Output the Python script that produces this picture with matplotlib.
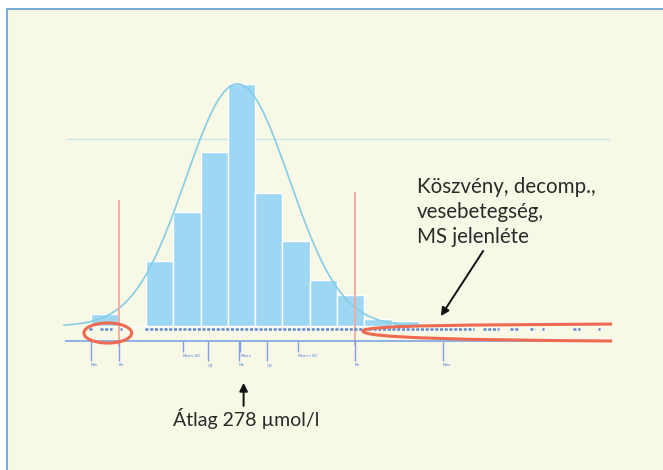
import matplotlib.pyplot as plt
import numpy as np
from matplotlib.patches import Ellipse, Rectangle, PathPatch
from matplotlib.path import Path

# histogram of serum uric acid (µmol/l), bins of 40
bin_edges = [60, 100, 140, 180, 220, 260, 300, 340, 380, 420, 460, 500, 540]
counts = [5, 0, 27, 47, 72, 100, 55, 35, 19, 13, 3, 2]

# fitted normal curve
curve_mean = 274
curve_sd = 76
curve_peak = 100

# rug of single values, drawn as runs (start, end)
rug_runs = [(57, 62), (73, 90), (102, 105), (138, 620), (634, 657),
            (673, 687), (703, 710), (720, 723), (766, 776), (802, 805)]

# markers under the axis
tick_pos = [59, 100, 194, 231, 276, 278, 317, 362, 446, 575]
tick_labels = ['Min', 'Bh', 'Mean-SD', 'Q1', 'Me', 'Mean', 'Q3', 'Mean+SD', 'Bh', 'Max']
tick_long = [True, True, False, True, True, False, True, False, True, True]

ref_level = 77.3
limits = [100, 446]
limit_tops = [52, 55.4]

bg = '#f8f8e7'
bar_col = '#9dd7f3'
curve_col = '#86cde6'
blue = '#5b88d6'
red = '#ee6a50'

fig = plt.figure(figsize=(6.63, 4.70), dpi=100)
fig.patch.set_facecolor('white')

ax = fig.add_axes([0, 0, 1, 1])
ax.set_facecolor('none')
ax.set_xlim(-73.9, 897.5)
ax.set_ylim(-59.5, 134.7)
ax.axis('off')

# cream panel with blue frame (top and left edges visible)
ax.add_patch(Rectangle((7 / 663, -0.01), 1.1, 1 - 9 / 470 + 0.01,
                       transform=fig.transFigure, facecolor=bg,
                       edgecolor='#7aaed0', linewidth=1.5, zorder=0,
                       clip_on=False))

# reference line
ax.hlines(ref_level, 24, 820, color='#c6e8ef', linewidth=1.0, zorder=1)

# bars
ax.bar(bin_edges[:-1], counts, width=np.diff(bin_edges), align='edge',
       color=bar_col, edgecolor='white', linewidth=1.0, zorder=2)

# normal curve
xs = np.linspace(20, 545, 400)
ax.plot(xs, curve_peak * np.exp(-0.5 * ((xs - curve_mean) / curve_sd) ** 2),
        color=curve_col, linewidth=1.2, zorder=3)

# red limit lines
for xp, top in zip(limits, limit_tops):
    ax.vlines(xp, -8.3, top, color='#f5a89c', linewidth=1.3, zorder=3)

# rug
for a, b in rug_runs:
    ax.hlines(-1.3, a, b, color=blue, linewidth=1.8,
              linestyles=(0, (1.2, 0.7)), zorder=4)

# axis line and markers
ax.hlines(-6.2, 22, 820, color='#7ea4e6', linewidth=1.2, zorder=4)
for xp, lab, lg in zip(tick_pos, tick_labels, tick_long):
    end = -14.5 if lg else -10.7
    ax.vlines(xp, end, -6.2, color='#7ea4e6', linewidth=1.0, zorder=4)
    ax.text(xp, end - 0.8, lab, fontsize=3, color=blue, ha='left', va='top')

# red ellipse on the left
ax.add_patch(Ellipse((84, -2.9), 70, 8.3, fill=False, edgecolor=red,
                     linewidth=2.2, zorder=5))

# red lasso on the right
verts = [(823, 0.8), (615, 0.4), (458, 0.4), (458, -2.1),
         (458, -5.0), (615, -5.8), (823, -6.2)]
codes = [Path.MOVETO, Path.CURVE4, Path.CURVE4, Path.CURVE4,
         Path.CURVE4, Path.CURVE4, Path.CURVE4]
ax.add_patch(PathPatch(Path(verts, codes), fill=False, edgecolor=red,
                       linewidth=2.2, zorder=5))

# annotations
ax.text(537, 61.5, 'Köszvény, decomp.,\nvesebetegség,\nMS jelenléte',
        fontsize=14.8, family='Lato', color='#2a2a2a', ha='left', va='top',
        linespacing=1.3)
ax.annotate('', xy=(572, 4.1), xytext=(634, 31),
            arrowprops=dict(arrowstyle='-|>', color='#111111', lw=1.4,
                            mutation_scale=12, shrinkA=0, shrinkB=0))

ax.text(180, -38.2, 'Átlag 278 µmol/l', fontsize=14, family='Lato',
        color='#2a2a2a', ha='left', va='center')
ax.annotate('', xy=(283, -23.5), xytext=(283, -33),
            arrowprops=dict(arrowstyle='-|>', color='#111111', lw=1.4,
                            mutation_scale=12, shrinkA=0, shrinkB=0))

fig.savefig('out.png', dpi=100, facecolor=fig.get_facecolor())
